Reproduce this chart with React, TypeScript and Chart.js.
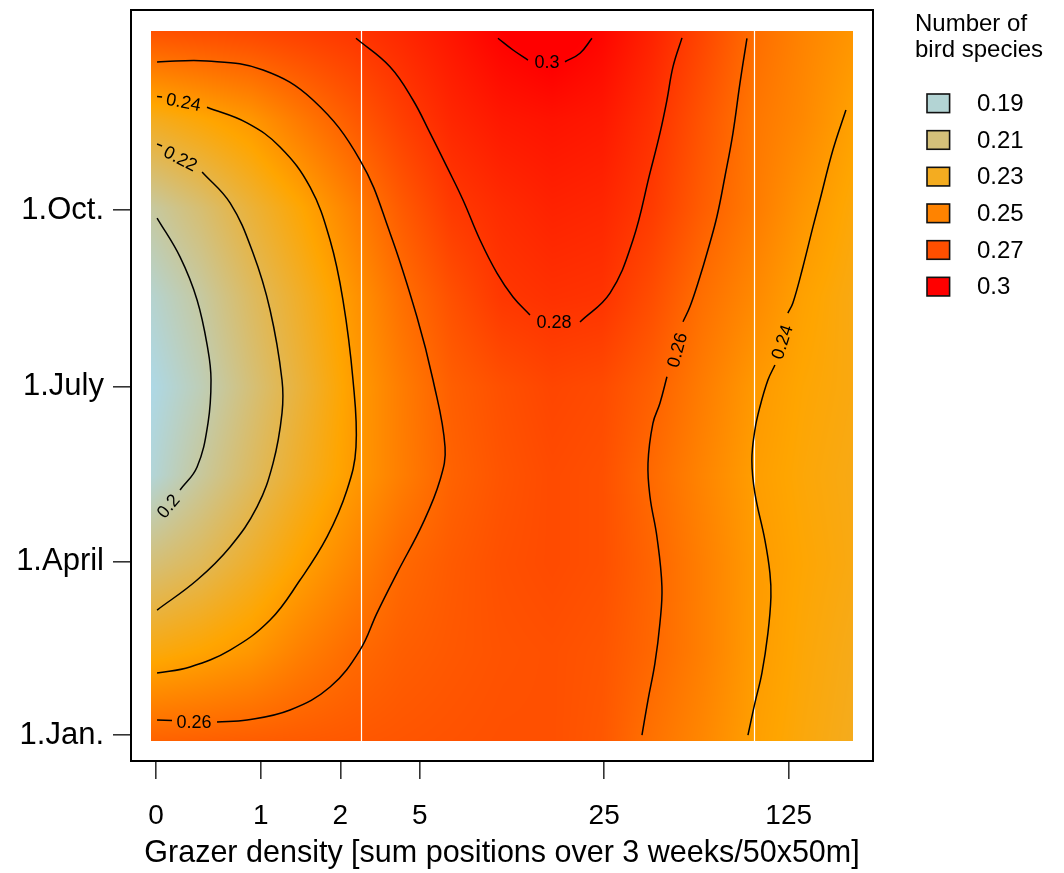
import React, { useEffect, useRef } from "react";
import { Chart, registerables } from "chart.js";

Chart.register(...registerables);

// ---------- axes ----------
const X_TICK_POS = [0.05, 1.094, 1.888, 2.679, 4.519, 6.359];
const X_TICK_LABELS = ["0", "1", "2", "5", "25", "125"];
const Y_TICK_DAYS = [0, 90, 181, 273];
const Y_TICK_LABELS = ["1.Jan.", "1.April", "1.July", "1.Oct."];
const X_TITLE = "Grazer density [sum positions over 3 weeks/50x50m]";
const BREAK_POS = [2.094, 6.015];

// ---------- fitted surface (rows bottom -> top) ----------
const GRID_X = [0, 0.5, 1, 1.5, 2, 2.5, 3, 3.5, 4, 4.5, 5, 5.5, 6, 6.5, 7];
const GRID_DAYS = [-3, 43, 89, 135, 181, 228, 274, 320, 366];
const ROW_D_M3 = [0.2625, 0.2635, 0.2645, 0.2655, 0.2665, 0.2675, 0.2685, 0.2695, 0.2695, 0.2665, 0.2565, 0.2485, 0.2395, 0.2345, 0.2305];
const ROW_D_43 = [0.2335, 0.2375, 0.2425, 0.2515, 0.259, 0.264, 0.2665, 0.2685, 0.2695, 0.2675, 0.2605, 0.2515, 0.241, 0.2355, 0.2315];
const ROW_D_89 = [0.2105, 0.2175, 0.2275, 0.2385, 0.249, 0.26, 0.2655, 0.2695, 0.2715, 0.2695, 0.2615, 0.2515, 0.2415, 0.2365, 0.233];
const ROW_D_135 = [0.189, 0.2025, 0.2155, 0.2285, 0.2405, 0.252, 0.2625, 0.268, 0.2715, 0.2695, 0.2595, 0.2495, 0.24, 0.2355, 0.2325];
const ROW_D_181 = [0.186, 0.1965, 0.2105, 0.2245, 0.2395, 0.2525, 0.264, 0.2695, 0.2735, 0.2715, 0.2635, 0.2525, 0.242, 0.2365, 0.2335];
const ROW_D_228 = [0.191, 0.2015, 0.2155, 0.2285, 0.2425, 0.2575, 0.2695, 0.279, 0.2815, 0.2805, 0.2705, 0.2575, 0.248, 0.2385, 0.233];
const ROW_D_274 = [0.2015, 0.212, 0.2245, 0.2365, 0.2505, 0.2655, 0.278, 0.2835, 0.287, 0.2855, 0.2775, 0.2645, 0.2535, 0.243, 0.235];
const ROW_D_320 = [0.23, 0.236, 0.2425, 0.254, 0.265, 0.276, 0.2855, 0.291, 0.293, 0.291, 0.2815, 0.268, 0.255, 0.248, 0.2385];
const ROW_D_366 = [0.269, 0.271, 0.273, 0.276, 0.2795, 0.285, 0.292, 0.3, 0.305, 0.298, 0.287, 0.2735, 0.259, 0.25, 0.243];
const GRID_VALUES = [ROW_D_M3, ROW_D_43, ROW_D_89, ROW_D_135, ROW_D_181, ROW_D_228, ROW_D_274, ROW_D_320, ROW_D_366];

// ---------- colour scale ----------
const COLOR_STOP_VALUES = [0.186, 0.237, 0.3];
const COLOR_STOP_RGB = [
  [173, 216, 230],
  [255, 165, 0],
  [255, 0, 0],
];

// ---------- legend ----------
const LEGEND_TITLE = ["Number of", "bird species"];
const LEGEND_VALUES = [0.19, 0.21, 0.23, 0.25, 0.27, 0.3];
const LEGEND_LABELS = ["0.19", "0.21", "0.23", "0.25", "0.27", "0.3"];

// ---------- contour lines [x, day] ----------
const C020 = [[0.06, 268.8], [0.289, 248.6], [0.459, 226.2], [0.568, 200.2], [0.598, 184.6], [0.568, 162.2], [0.459, 139.4], [0.289, 127.4]];
const C022_A = [[0.06, 307.3], [0.11, 306.3]];
const C022_B = [[0.509, 292.8], [0.788, 276.7], [1.017, 250.6], [1.187, 221.0], [1.306, 184.6], [1.306, 167.4], [1.217, 141.4], [1.057, 118.6], [0.788, 97.8], [0.459, 80.6], [0.06, 65.0]];
const C024L_A = [[0.06, 332.0], [0.11, 331.8]];
const C024L_B = [[0.558, 326.4], [0.957, 318.3], [1.286, 305.8], [1.585, 285.0], [1.785, 257.4], [1.914, 226.2], [2.014, 184.6], [2.044, 149.8], [1.954, 127.4], [1.755, 103.0], [1.486, 80.6], [1.187, 59.8], [0.788, 44.2], [0.389, 35.4], [0.06, 32.2]];
const C026L_A = [[0.06, 7.8], [0.209, 7.54]];
const C026L_B = [[0.658, 6.76], [0.957, 7.8], [1.386, 13.0], [1.785, 24.96], [2.084, 44.2], [2.253, 63.4], [2.453, 84.2], [2.712, 110.2], [2.882, 132.6], [2.932, 149.8], [2.812, 184.6], [2.652, 217.4], [2.383, 261.1], [2.084, 299.0], [1.615, 330.2], [1.117, 345.8], [0.558, 350.5], [0.06, 350.0]];
const C028_A = [[2.044, 362.3], [2.383, 347.5], [2.612, 330.2], [2.782, 313.1], [2.951, 295.4], [3.111, 278.2], [3.281, 257.4], [3.45, 240.2], [3.61, 227.8], [3.779, 218.4]];
const C028_B = [[4.278, 214.8], [4.577, 229.8], [4.806, 257.4], [4.976, 292.3], [5.076, 313.1], [5.145, 330.2], [5.205, 347.4], [5.295, 362.5]];
const C030_A = [[3.46, 362.3], [3.61, 356.2], [3.759, 351.0]];
const C030_B = [[4.128, 350.1], [4.278, 354.5], [4.397, 362.3]];
const C026R_A = [[5.943, 362.3], [5.873, 338.9], [5.803, 312.9], [5.723, 290.3], [5.643, 269.5], [5.544, 250.5], [5.474, 238.3], [5.374, 222.7], [5.305, 214.9]];
const C026R_B = [[5.145, 186.3], [5.075, 172.5], [5.005, 162.1], [4.956, 141.3], [4.976, 123.9], [5.045, 103.1], [5.095, 77.1], [5.075, 58.1], [5.025, 37.3], [4.956, 18.2], [4.896, 0.0]];
const C024R_A = [[6.93, 325.0], [6.8, 304.2], [6.671, 278.2], [6.601, 264.2], [6.501, 243.4], [6.401, 224.6], [6.351, 219.4]];
const C024R_B = [[6.222, 192.4], [6.152, 184.6], [6.072, 170.6], [6.022, 158.6], [5.992, 143.0], [6.022, 125.8], [6.122, 101.4], [6.172, 84.2], [6.182, 71.8], [6.152, 53.0], [6.092, 32.2], [6.022, 16.6], [5.953, 0.0]];
const CONTOURS = [C020, C022_A, C022_B, C024L_A, C024L_B, C026L_A, C026L_B, C028_A, C028_B, C030_A, C030_B, C026R_A, C026R_B, C024R_A, C024R_B];

const CONTOUR_LABEL_TEXT = ["0.2", "0.22", "0.24", "0.26", "0.28", "0.3", "0.26", "0.24"];
const CONTOUR_LABEL_X = [0.17, 0.294, 0.324, 0.429, 4.018, 3.949, 5.245, 6.292];
const CONTOUR_LABEL_DAY = [119.1, 299.8, 329.2, 6.8, 214.8, 350.0, 200.2, 204.4];
const CONTOUR_LABEL_ANGLE = [-50, 27, 11, 0, 0, 0, -75, -72];

const FONT = "'Liberation Sans', Arial, Helvetica, sans-serif";

function colorFor(v: number): number[] {
  const s = COLOR_STOP_VALUES;
  if (v <= s[0]) return COLOR_STOP_RGB[0];
  if (v >= s[s.length - 1]) return COLOR_STOP_RGB[s.length - 1];
  let k = 0;
  while (k < s.length - 2 && v > s[k + 1]) k++;
  const t = (v - s[k]) / (s[k + 1] - s[k]);
  const a = COLOR_STOP_RGB[k];
  const b = COLOR_STOP_RGB[k + 1];
  return [a[0] + (b[0] - a[0]) * t, a[1] + (b[1] - a[1]) * t, a[2] + (b[2] - a[2]) * t];
}

function locate(arr: number[], v: number): [number, number] {
  if (v <= arr[0]) return [0, 0];
  if (v >= arr[arr.length - 1]) return [arr.length - 2, 1];
  let k = 0;
  while (k < arr.length - 2 && v > arr[k + 1]) k++;
  return [k, (v - arr[k]) / (arr[k + 1] - arr[k])];
}

const heatPlugin = {
  id: "heat",
  beforeDatasetsDraw(chart: any) {
    const { ctx } = chart;
    const xs = chart.scales.x;
    const ys = chart.scales.y;
    const L = Math.round(xs.getPixelForValue(GRID_X[0]));
    const R = Math.round(xs.getPixelForValue(GRID_X[GRID_X.length - 1]));
    const T = Math.round(ys.getPixelForValue(GRID_DAYS[GRID_DAYS.length - 1]));
    const B = Math.round(ys.getPixelForValue(GRID_DAYS[0]));
    const w = R - L;
    const h = B - T;
    const off = document.createElement("canvas");
    off.width = w;
    off.height = h;
    const octx = off.getContext("2d")!;
    const img = octx.createImageData(w, h);
    const colIdx: [number, number][] = [];
    for (let i = 0; i < w; i++) colIdx.push(locate(GRID_X, xs.getValueForPixel(L + i + 0.5)));
    for (let j = 0; j < h; j++) {
      const [r0, ty] = locate(GRID_DAYS, ys.getValueForPixel(T + j + 0.5));
      const lo = GRID_VALUES[r0];
      const hi = GRID_VALUES[r0 + 1];
      for (let i = 0; i < w; i++) {
        const [c0, tx] = colIdx[i];
        const a = lo[c0] * (1 - tx) + lo[c0 + 1] * tx;
        const b = hi[c0] * (1 - tx) + hi[c0 + 1] * tx;
        const v = a * (1 - ty) + b * ty;
        const c = colorFor(v);
        const p = (j * w + i) * 4;
        img.data[p] = c[0];
        img.data[p + 1] = c[1];
        img.data[p + 2] = c[2];
        img.data[p + 3] = 255;
      }
    }
    octx.putImageData(img, 0, 0);
    ctx.drawImage(off, L, T);
    ctx.save();
    ctx.strokeStyle = "#ffffff";
    ctx.lineWidth = 1.2;
    BREAK_POS.forEach((bp) => {
      const px = Math.round(xs.getPixelForValue(bp)) + 0.5;
      ctx.beginPath();
      ctx.moveTo(px, T);
      ctx.lineTo(px, B);
      ctx.stroke();
    });
    ctx.restore();
  },
};

const labelPlugin = {
  id: "contourLabels",
  afterDatasetsDraw(chart: any) {
    const { ctx } = chart;
    const xs = chart.scales.x;
    const ys = chart.scales.y;
    ctx.save();
    ctx.fillStyle = "#000";
    ctx.font = `18px ${FONT}`;
    ctx.textAlign = "center";
    ctx.textBaseline = "middle";
    CONTOUR_LABEL_TEXT.forEach((t, i) => {
      const px = xs.getPixelForValue(CONTOUR_LABEL_X[i]);
      const py = ys.getPixelForValue(CONTOUR_LABEL_DAY[i]);
      ctx.save();
      ctx.translate(px, py);
      ctx.rotate((CONTOUR_LABEL_ANGLE[i] * Math.PI) / 180);
      ctx.fillText(t, 0, 1);
      ctx.restore();
    });
    ctx.restore();
  },
};

const framePlugin = {
  id: "frameLegend",
  afterDraw(chart: any) {
    const { ctx, chartArea } = chart;
    ctx.save();
    ctx.strokeStyle = "#000";
    ctx.lineWidth = 2;
    ctx.strokeRect(chartArea.left, chartArea.top, chartArea.right - chartArea.left, chartArea.bottom - chartArea.top);
    // legend
    ctx.fillStyle = "#000";
    ctx.font = `24px ${FONT}`;
    ctx.textAlign = "left";
    ctx.textBaseline = "alphabetic";
    LEGEND_TITLE.forEach((t, i) => ctx.fillText(t, 915, 31 + i * 26));
    LEGEND_VALUES.forEach((v, i) => {
      const cy = 103.3 + i * 36.67;
      const c = colorFor(v);
      ctx.fillStyle = `rgb(${Math.round(c[0])},${Math.round(c[1])},${Math.round(c[2])})`;
      ctx.fillRect(927, cy - 9.3, 22.6, 18.6);
      ctx.lineWidth = 1.6;
      ctx.strokeStyle = "#111";
      ctx.strokeRect(927, cy - 9.3, 22.6, 18.6);
      ctx.fillStyle = "#000";
      ctx.font = `24px ${FONT}`;
      ctx.textBaseline = "middle";
      ctx.fillText(LEGEND_LABELS[i], 977, cy + 1);
    });
    ctx.restore();
  },
};

export default function App() {
  const ref = useRef<HTMLCanvasElement>(null);
  useEffect(() => {
    if (!ref.current) return;
    const datasets = CONTOURS.map((seg) => ({
      data: seg.map(([x, y]) => ({ x, y })),
      showLine: true,
      borderColor: "#000",
      borderWidth: 1.5,
      pointRadius: 0,
      tension: 0.4,
      fill: false,
    }));
    const chart = new Chart(ref.current, {
      type: "scatter",
      data: { datasets },
      plugins: [heatPlugin, labelPlugin, framePlugin],
      options: {
        animation: false,
        responsive: false,
        layout: { padding: { left: 0, right: 191, top: 10, bottom: 0 } },
        plugins: { legend: { display: false }, tooltip: { enabled: false } },
        scales: {
          x: {
            type: "linear",
            min: -0.2,
            max: 7.2,
            afterBuildTicks: (s: any) => {
              s.ticks = X_TICK_POS.map((v) => ({ value: v }));
            },
            afterFit: (s: any) => {
              s.height = 112;
              s.paddingLeft = 0;
              s.paddingRight = 0;
              s.paddingTop = 0;
              s.paddingBottom = 0;
            },
            ticks: {
              callback: (_v: any, i: number) => X_TICK_LABELS[i],
              font: { family: FONT, size: 28 },
              color: "#000",
              padding: 20,
              maxRotation: 0,
              autoSkip: false,
            },
            grid: { drawOnChartArea: false, drawTicks: true, tickLength: 18, color: "#333", lineWidth: 1.6 },
            border: { display: false },
            title: {
              display: true,
              text: X_TITLE,
              font: { family: FONT, size: 30.5 },
              color: "#000",
              padding: { top: 0, bottom: 1 },
            },
          },
          y: {
            type: "linear",
            min: -13.5,
            max: 377,
            afterBuildTicks: (s: any) => {
              s.ticks = Y_TICK_DAYS.map((v) => ({ value: v }));
            },
            afterFit: (s: any) => {
              s.width = 131;
              s.paddingLeft = 0;
              s.paddingRight = 0;
              s.paddingTop = 0;
              s.paddingBottom = 0;
            },
            ticks: {
              callback: (_v: any, i: number) => Y_TICK_LABELS[i],
              font: { family: FONT, size: 31 },
              color: "#000",
              padding: 9,
              autoSkip: false,
            },
            grid: { drawOnChartArea: false, drawTicks: true, tickLength: 18, color: "#333", lineWidth: 1.6 },
            border: { display: false },
          },
        },
      } as any,
    });
    return () => chart.destroy();
  }, []);
  return (
    <div style={{ position: "absolute", left: 0, top: 0, width: 1064, height: 873, background: "#fff" }}>
      <canvas ref={ref} width={1064} height={873} style={{ display: "block" }} />
    </div>
  );
}
